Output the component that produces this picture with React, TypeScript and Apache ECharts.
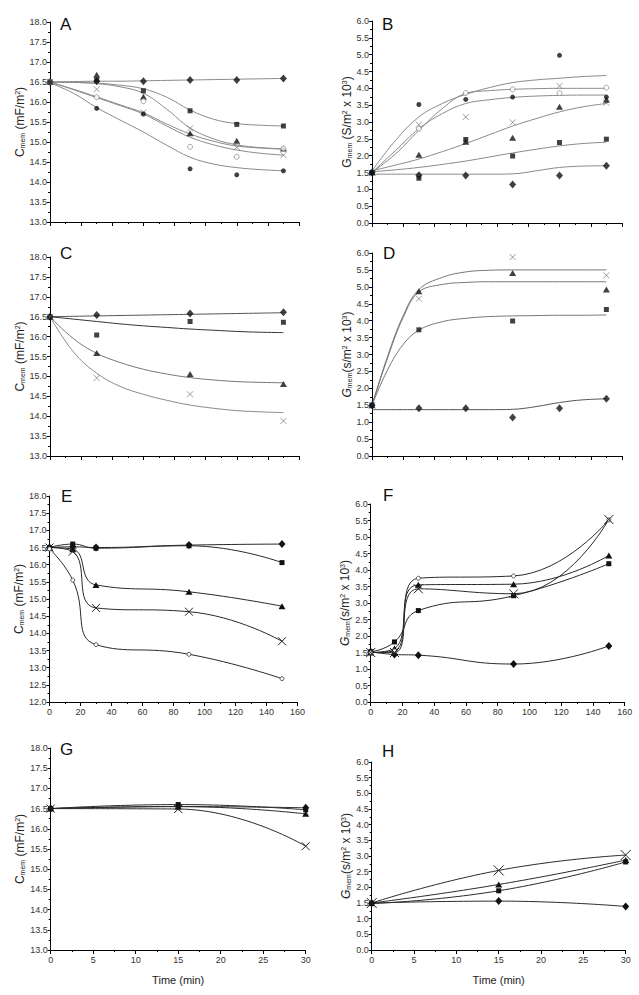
import React, { useEffect, useRef } from 'react';
import * as echarts from 'echarts';

// ---------------- Panel A: C_mem, fitted curves ----------------
const A_time = [0, 30, 60, 90, 120, 150];
const A_diamond = [16.5, 16.52, 16.52, 16.55, 16.55, 16.59];
const A_square = [16.5, 16.55, 16.28, 15.78, 15.44, 15.4];
const A_triangle = [16.5, 16.68, 16.13, 15.22, 15.03, 14.84];
const A_cross = [16.5, 16.32, 15.74, 15.34, 14.87, 14.67];
const A_open = [16.5, 16.12, 16.02, 14.88, 14.63, 14.84];
const A_circle = [16.5, 15.84, 15.7, 14.33, 14.18, 14.28];
const A_fitTime = [0, 15, 30, 45, 60, 75, 90, 105, 120, 135, 150];
const A_fitDiamond = [16.5, 16.51, 16.52, 16.52, 16.53, 16.54, 16.55, 16.56, 16.57, 16.58, 16.59];
const A_fitSquare = [16.5, 16.49, 16.47, 16.42, 16.33, 16.12, 15.8, 15.57, 15.46, 15.42, 15.4];
const A_fitTriangle = [16.5, 16.49, 16.46, 16.38, 16.22, 15.82, 15.35, 15.08, 14.93, 14.86, 14.83];
const A_fitOpen = [16.5, 16.32, 16.13, 15.93, 15.73, 15.45, 15.2, 15.02, 14.9, 14.85, 14.82];
const A_fitCross = [16.5, 16.31, 16.11, 15.91, 15.7, 15.4, 15.12, 14.93, 14.8, 14.72, 14.67];
const A_fitCircle = [16.48, 16.22, 15.86, 15.55, 15.25, 14.92, 14.62, 14.45, 14.36, 14.31, 14.28];

// ---------------- Panel B: G_mem, fitted curves ----------------
const B_time = [0, 30, 60, 90, 120, 150];
const B_circle = [1.5, 3.52, 3.67, 3.74, 4.98, 3.74];
const B_open = [1.5, 2.8, 3.86, 3.97, 3.86, 4.02];
const B_cross = [1.5, 2.92, 3.15, 2.99, 4.07, 3.57];
const B_triangle = [1.5, 2.03, 2.41, 2.53, 3.45, 3.66];
const B_square = [1.5, 1.33, 2.48, 1.99, 2.39, 2.49];
const B_diamond = [1.5, 1.42, 1.41, 1.14, 1.41, 1.7];
const B_fitTime = [0, 15, 30, 45, 60, 75, 90, 105, 120, 135, 150];
const B_fitTop = [1.55, 2.45, 3.15, 3.55, 3.82, 4.02, 4.17, 4.25, 4.3, 4.35, 4.38];
const B_fitOpen = [1.5, 2.05, 2.75, 3.4, 3.85, 3.93, 3.97, 3.99, 4.0, 4.0, 4.0];
const B_fitCircle = [1.5, 2.15, 2.8, 3.25, 3.55, 3.66, 3.73, 3.77, 3.79, 3.8, 3.8];
const B_fitTriangle = [1.55, 1.72, 1.9, 2.12, 2.36, 2.62, 2.88, 3.1, 3.3, 3.45, 3.55];
const B_fitSquare = [1.52, 1.58, 1.65, 1.74, 1.84, 1.96, 2.08, 2.19, 2.29, 2.36, 2.4];
const B_fitDiamond = [1.45, 1.45, 1.45, 1.45, 1.45, 1.45, 1.46, 1.55, 1.65, 1.69, 1.7];

// ---------------- Panel C ----------------
const C_time = [0, 30, 90, 150];
const C_diamond = [16.5, 16.54, 16.58, 16.61];
const C_square = [16.5, 16.04, 16.38, 16.36];
const C_triangle = [16.5, 15.59, 15.06, 14.81];
const C_cross = [16.5, 14.96, 14.55, 13.88];
const C_fitTime = [0, 15, 30, 45, 60, 75, 90, 105, 120, 135, 150];
const C_fitDiamond = [16.5, 16.51, 16.52, 16.53, 16.54, 16.55, 16.56, 16.57, 16.58, 16.59, 16.6];
const C_fitSquare = [16.5, 16.44, 16.38, 16.32, 16.27, 16.23, 16.19, 16.16, 16.13, 16.11, 16.1];
const C_fitTriangle = [16.5, 15.95, 15.58, 15.35, 15.18, 15.06, 14.97, 14.91, 14.87, 14.85, 14.84];
const C_fitCross = [16.5, 15.62, 15.08, 14.75, 14.55, 14.4, 14.28, 14.2, 14.14, 14.11, 14.09];

// ---------------- Panel D ----------------
const D_timeDiamond = [0, 30, 60, 90, 120, 150];
const D_diamond = [1.5, 1.41, 1.41, 1.14, 1.41, 1.69];
const D_time = [0, 30, 90, 150];
const D_triangle = [1.5, 4.87, 5.41, 4.92];
const D_cross = [1.5, 4.65, 5.88, 5.34];
const D_square = [1.5, 3.73, 3.99, 4.33];
const D_fitTime = [0, 10, 20, 30, 45, 60, 75, 90, 105, 120, 135, 150];
const D_fitTop = [1.5, 2.95, 4.15, 4.92, 5.28, 5.44, 5.49, 5.5, 5.5, 5.5, 5.5, 5.5];
const D_fitSecond = [1.5, 2.9, 4.1, 4.85, 5.07, 5.13, 5.15, 5.15, 5.15, 5.15, 5.15, 5.15];
const D_fitSquare = [1.5, 2.55, 3.3, 3.72, 3.97, 4.07, 4.12, 4.14, 4.15, 4.16, 4.16, 4.17];
const D_fitDiamond = [1.37, 1.37, 1.37, 1.37, 1.37, 1.37, 1.37, 1.38, 1.46, 1.58, 1.66, 1.69];

// ---------------- Panel E ----------------
const E_time = [0, 15, 30, 90, 150];
const E_diamond = [16.5, 16.52, 16.5, 16.57, 16.6];
const E_square = [16.5, 16.6, 16.48, 16.55, 16.06];
const E_triangle = [16.5, 16.45, 15.41, 15.21, 14.79];
const E_cross = [16.5, 16.38, 14.74, 14.63, 13.77];
const E_circle = [16.46, 15.55, 13.67, 13.39, 12.68];

// ---------------- Panel F ----------------
const F_time = [0, 15, 30, 90, 150];
const F_diamond = [1.52, 1.44, 1.42, 1.15, 1.7];
const F_square = [1.52, 1.82, 2.77, 3.22, 4.19];
const F_triangle = [1.5, 1.62, 3.55, 3.57, 4.44];
const F_circle = [1.5, 1.55, 3.75, 3.82, 5.52];
const F_cross = [1.5, 1.5, 3.43, 3.28, 5.53];

// ---------------- Panel G ----------------
const G_time = [0, 15, 30];
const G_diamond = [16.5, 16.55, 16.52];
const G_square = [16.5, 16.6, 16.47];
const G_triangle = [16.5, 16.55, 16.37];
const G_cross = [16.5, 16.49, 15.57];

// ---------------- Panel H ----------------
const H_time = [0, 15, 30];
const H_diamond = [1.5, 1.56, 1.39];
const H_square = [1.48, 1.89, 2.81];
const H_triangle = [1.5, 2.09, 2.87];
const H_cross = [1.5, 2.54, 3.03];

const PANEL_LETTERS = ['A', 'B', 'C', 'D', 'E', 'F', 'G', 'H'];

const FONT = '"Liberation Sans", Arial, Helvetica, sans-serif';
const CROSS = 'path://M0,0L10,10M10,0L0,10';

const pairs = (xs: number[], ys: number[]) => xs.map((x, i) => [x, ys[i]]);

type Mk = { symbol: string; size: any; itemStyle: any };
const MK: Record<string, Mk> = {
  diamond: { symbol: 'diamond', size: [7, 8], itemStyle: { color: '#111' } },
  square: { symbol: 'rect', size: 5, itemStyle: { color: '#111' } },
  triangle: { symbol: 'triangle', size: [7, 6], itemStyle: { color: '#111' } },
  circle: { symbol: 'circle', size: 5, itemStyle: { color: '#111' } },
  open: { symbol: 'circle', size: 5, itemStyle: { color: '#fff', borderColor: '#777', borderWidth: 0.8 } },
  cross: { symbol: CROSS, size: 6, itemStyle: { color: 'none', borderColor: '#777', borderWidth: 0.9 } },
  smallOpen: { symbol: 'circle', size: 4, itemStyle: { color: '#fff', borderColor: '#333', borderWidth: 0.8 } },
  bigCross: { symbol: CROSS, size: 8, itemStyle: { color: 'none', borderColor: '#222', borderWidth: 1 } },
};

function scatter(g: number, xs: number[], ys: number[], mk: Mk) {
  return {
    type: 'scatter',
    xAxisIndex: g,
    yAxisIndex: g,
    data: pairs(xs, ys),
    symbol: mk.symbol,
    symbolSize: mk.size,
    itemStyle: mk.itemStyle,
    z: 5,
    silent: true,
  };
}

function fit(g: number, xs: number[], ys: number[], color = '#8a8a8a') {
  return {
    type: 'line',
    xAxisIndex: g,
    yAxisIndex: g,
    data: pairs(xs, ys),
    smooth: 0.4,
    showSymbol: false,
    symbol: 'none',
    lineStyle: { color, width: 1 },
    z: 2,
    silent: true,
  };
}

function linked(g: number, xs: number[], ys: number[], mk: Mk) {
  return {
    type: 'line',
    xAxisIndex: g,
    yAxisIndex: g,
    data: pairs(xs, ys),
    smooth: 0.5,
    showSymbol: true,
    symbol: mk.symbol,
    symbolSize: mk.size,
    itemStyle: mk.itemStyle,
    lineStyle: { color: '#2a2a2a', width: 1 },
    z: 3,
    silent: true,
  };
}

const GRIDS = [
  { left: 50, top: 22, width: 249, height: 200 },
  { left: 372, top: 21, width: 250, height: 202 },
  { left: 50, top: 257, width: 249, height: 199 },
  { left: 372, top: 253, width: 250, height: 203 },
  { left: 49.5, top: 496, width: 248, height: 206 },
  { left: 370.7, top: 504, width: 254, height: 198 },
  { left: 50.7, top: 748, width: 255, height: 202 },
  { left: 371.7, top: 762, width: 254, height: 188 },
];

const LETTER_POS = [
  [60, 16], [382, 16], [60, 245], [383, 245], [61, 488], [383, 487], [60, 741], [382, 743],
];

const rich = {
  i: { fontSize: 12, fontFamily: FONT, color: '#222' },
  it: { fontSize: 12, fontFamily: FONT, color: '#222', fontStyle: 'italic' },
  s: { fontSize: 7, fontFamily: FONT, color: '#222', verticalAlign: 'bottom' },
  p: { fontSize: 7, fontFamily: FONT, color: '#222', verticalAlign: 'top' },
};

const NAME_C = '{i|C}{s|mem} {i|(mF/m}{p|2}{i|)}';
const NAME_G1 = '{i|G}{s|mem} {i|(S/m}{p|2}{i| x 10}{p|3}{i|)}';
const NAME_G2 = '{it|G}{s|mem}{i|(s/m}{p|2}{i| x 10}{p|3}{i|)}';

function yAxis(g: number, min: number, max: number, name: string, gap: number) {
  return {
    type: 'value',
    gridIndex: g,
    min,
    max,
    interval: 0.5,
    axisLine: { show: true, lineStyle: { color: '#000', width: 1 } },
    axisTick: { show: true, length: 3, lineStyle: { color: '#000' } },
    minorTick: { show: true, splitNumber: 2, length: 2, lineStyle: { color: '#000' } },
    splitLine: { show: false },
    axisLabel: { fontSize: 9, color: '#333', margin: 3, fontFamily: FONT, formatter: (v: number) => v.toFixed(1) },
    name,
    nameLocation: 'middle',
    nameRotate: 90,
    nameGap: gap,
    nameTextStyle: { rich, fontFamily: FONT, fontSize: 12, color: '#222' },
  };
}

function xAxis(g: number, max: number, interval: number, showLabels: boolean, name?: string) {
  return {
    type: 'value',
    gridIndex: g,
    min: 0,
    max,
    interval,
    axisLine: { show: true, onZero: false, lineStyle: { color: '#000', width: 1 } },
    axisTick: { show: true, length: 4, lineStyle: { color: '#000' } },
    minorTick: { show: true, splitNumber: 2, length: 2, lineStyle: { color: '#000' } },
    splitLine: { show: false },
    axisLabel: { show: showLabels, fontSize: 9, color: '#333', margin: 5, fontFamily: FONT },
    name: name || '',
    nameLocation: 'middle',
    nameGap: 24,
    nameTextStyle: { fontSize: 11, color: '#222', fontFamily: FONT },
  };
}

function buildOption() {
  const series: any[] = [];
  // A
  series.push(
    fit(0, A_fitTime, A_fitDiamond),
    fit(0, A_fitTime, A_fitSquare),
    fit(0, A_fitTime, A_fitTriangle),
    fit(0, A_fitTime, A_fitOpen),
    fit(0, A_fitTime, A_fitCross),
    fit(0, A_fitTime, A_fitCircle),
    scatter(0, A_time, A_diamond, MK.diamond),
    scatter(0, A_time, A_square, MK.square),
    scatter(0, A_time, A_triangle, MK.triangle),
    scatter(0, A_time, A_cross, MK.cross),
    scatter(0, A_time, A_open, MK.open),
    scatter(0, A_time, A_circle, MK.circle)
  );
  // B
  series.push(
    fit(1, B_fitTime, B_fitTop),
    fit(1, B_fitTime, B_fitOpen),
    fit(1, B_fitTime, B_fitCircle),
    fit(1, B_fitTime, B_fitTriangle),
    fit(1, B_fitTime, B_fitSquare),
    fit(1, B_fitTime, B_fitDiamond),
    scatter(1, B_time, B_circle, MK.circle),
    scatter(1, B_time, B_open, MK.open),
    scatter(1, B_time, B_cross, MK.cross),
    scatter(1, B_time, B_triangle, MK.triangle),
    scatter(1, B_time, B_square, MK.square),
    scatter(1, B_time, B_diamond, MK.diamond)
  );
  // C
  series.push(
    fit(2, C_fitTime, C_fitDiamond, '#555'),
    fit(2, C_fitTime, C_fitSquare, '#333'),
    fit(2, C_fitTime, C_fitTriangle, '#777'),
    fit(2, C_fitTime, C_fitCross, '#8a8a8a'),
    scatter(2, C_time, C_diamond, MK.diamond),
    scatter(2, C_time, C_square, MK.square),
    scatter(2, C_time, C_triangle, MK.triangle),
    scatter(2, C_time, C_cross, MK.cross)
  );
  // D
  series.push(
    fit(3, D_fitTime, D_fitTop, '#777'),
    fit(3, D_fitTime, D_fitSecond, '#777'),
    fit(3, D_fitTime, D_fitSquare, '#777'),
    fit(3, D_fitTime, D_fitDiamond, '#555'),
    scatter(3, D_timeDiamond, D_diamond, MK.diamond),
    scatter(3, D_time, D_triangle, MK.triangle),
    scatter(3, D_time, D_cross, MK.cross),
    scatter(3, D_time, D_square, MK.square)
  );
  // E
  series.push(
    linked(4, E_time, E_diamond, MK.diamond),
    linked(4, E_time, E_square, MK.square),
    linked(4, E_time, E_triangle, MK.triangle),
    linked(4, E_time, E_cross, MK.bigCross),
    linked(4, E_time, E_circle, MK.smallOpen)
  );
  // F
  series.push(
    linked(5, F_time, F_diamond, MK.diamond),
    linked(5, F_time, F_square, MK.square),
    linked(5, F_time, F_triangle, MK.triangle),
    linked(5, F_time, F_circle, MK.smallOpen),
    linked(5, F_time, F_cross, { ...MK.bigCross, size: 9 })
  );
  // G
  series.push(
    linked(6, G_time, G_diamond, MK.diamond),
    linked(6, G_time, G_square, MK.square),
    linked(6, G_time, G_triangle, MK.triangle),
    linked(6, G_time, G_cross, MK.bigCross)
  );
  // H
  series.push(
    linked(7, H_time, H_diamond, MK.diamond),
    linked(7, H_time, H_square, MK.square),
    linked(7, H_time, H_triangle, MK.triangle),
    linked(7, H_time, H_cross, { ...MK.bigCross, size: 10 })
  );

  return {
    animation: false,
    backgroundColor: '#fff',
    grid: GRIDS.map((g) => ({ ...g, containLabel: false })),
    xAxis: [
      xAxis(0, 160, 20, false),
      xAxis(1, 160, 20, false),
      xAxis(2, 160, 20, false),
      xAxis(3, 160, 20, false),
      xAxis(4, 160, 20, true),
      xAxis(5, 160, 20, true),
      xAxis(6, 30, 5, true, 'Time (min)'),
      xAxis(7, 30, 5, true, 'Time (min)'),
    ],
    yAxis: [
      yAxis(0, 13, 18, NAME_C, 17),
      yAxis(1, 0, 6, NAME_G1, 15),
      yAxis(2, 13, 18, NAME_C, 21),
      yAxis(3, 0, 6, NAME_G2, 15),
      yAxis(4, 12, 18, NAME_C, 20),
      yAxis(5, 0, 6, NAME_G2, 14),
      yAxis(6, 13, 18, NAME_C, 22),
      yAxis(7, 0, 6, NAME_G2, 16),
    ],
    graphic: PANEL_LETTERS.map((t, i) => ({
      type: 'text',
      left: LETTER_POS[i][0],
      top: LETTER_POS[i][1],
      style: { text: t, fontSize: 17, fontFamily: FONT, fill: '#111' },
      silent: true,
    })),
    series,
  };
}

export default function App() {
  const ref = useRef<HTMLDivElement>(null);
  useEffect(() => {
    if (!ref.current) return;
    const chart = echarts.init(ref.current, null, { renderer: 'svg' });
    chart.setOption(buildOption() as any);
    return () => chart.dispose();
  }, []);
  return (
    <div
      ref={ref}
      style={{ position: 'fixed', left: 0, top: 0, width: 639, height: 995, background: '#fff' }}
    />
  );
}
